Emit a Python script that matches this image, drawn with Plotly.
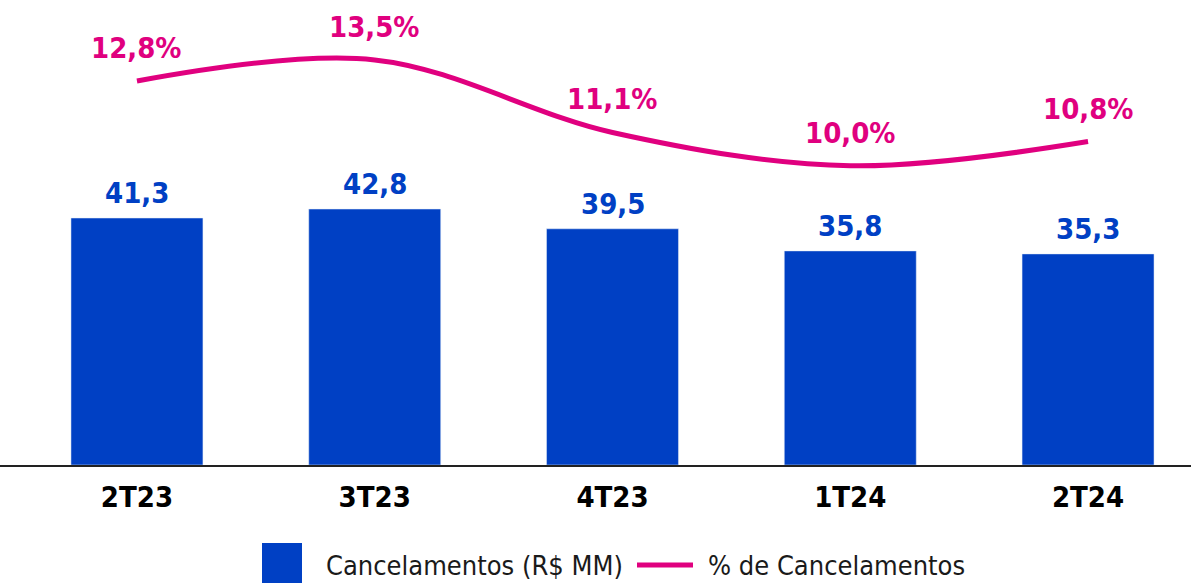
import plotly.graph_objects as go

categories = ["2T23", "3T23", "4T23", "1T24", "2T24"]
cancel_values = [41.3, 42.8, 39.5, 35.8, 35.3]
pct_values = [12.8, 13.5, 11.1, 10.0, 10.8]
bar_labels = ["41,3", "42,8", "39,5", "35,8", "35,3"]
pct_labels = ["12,8%", "13,5%", "11,1%", "10,0%", "10,8%"]

BLUE = "#0040C4"
MAGENTA = "#E0007F"
FONT = "DejaVu Sans Condensed, Roboto, sans-serif"

fig = go.Figure()
fig.add_trace(go.Bar(x=categories, y=cancel_values, marker_color=BLUE,
                     width=0.555, name="Cancelamentos (R$ MM)", yaxis="y"))
fig.add_trace(go.Scatter(x=categories, y=pct_values, mode="lines",
                         line=dict(color=MAGENTA, width=5, shape="spline", smoothing=1.0),
                         name="% de Cancelamentos", yaxis="y2"))

ann = []
for c, v, t in zip(categories, cancel_values, bar_labels):
    ann.append(dict(x=c, y=v, xref="x", yref="y", text="<b>%s</b>" % t, showarrow=False,
                    yanchor="middle", yshift=25, font=dict(family=FONT, size=29, color=BLUE)))
for c, v, t in zip(categories, pct_values, pct_labels):
    ann.append(dict(x=c, y=v, xref="x", yref="y2", text="<b>%s</b>" % t, showarrow=False,
                    yanchor="middle", yshift=33, font=dict(family=FONT, size=29, color=MAGENTA)))

W, H = 1191, 583
PH = 465

def px(xp):
    return xp / W

def py(yp):
    return (PH - yp) / PH

ann.append(dict(x=px(324), y=py(565), xref="paper", yref="paper", text="Cancelamentos (R$ MM)",
                showarrow=False, xanchor="left", yanchor="middle",
                font=dict(family=FONT, size=27, color="#1a1a1a")))
ann.append(dict(x=px(706), y=py(565), xref="paper", yref="paper", text="% de Cancelamentos",
                showarrow=False, xanchor="left", yanchor="middle",
                font=dict(family=FONT, size=27, color="#1a1a1a")))

shapes = [
    dict(type="rect", xref="paper", yref="paper", x0=px(262), x1=px(302), y0=py(583), y1=py(543),
         fillcolor=BLUE, line=dict(width=0)),
    dict(type="line", xref="paper", yref="paper", x0=px(637), x1=px(693), y0=py(565), y1=py(565),
         line=dict(color=MAGENTA, width=5)),
]

fig.update_layout(
    width=W, height=H,
    margin=dict(l=0, r=0, t=0, b=H - PH),
    paper_bgcolor="white", plot_bgcolor="white",
    showlegend=False,
    annotations=ann,
    shapes=shapes,
    xaxis=dict(range=[-0.576, 4.433], showgrid=False, zeroline=False,
               showline=True, linecolor="#222", linewidth=1.5,
               ticks="", ticklabelstandoff=5,
               tickvals=categories, ticktext=["<b>%s</b>" % c for c in categories],
               tickfont=dict(family=FONT, size=29, color="black")),
    yaxis=dict(range=[0, 77.76], visible=False, showgrid=False, zeroline=False),
    yaxis2=dict(range=[0.106, 15.48], overlaying="y", side="right", visible=False,
                showgrid=False, zeroline=False),
)

fig.write_html("out.html", config={"displayModeBar": False},
               post_script="document.body.style.margin='0';document.body.style.overflow='hidden';")
